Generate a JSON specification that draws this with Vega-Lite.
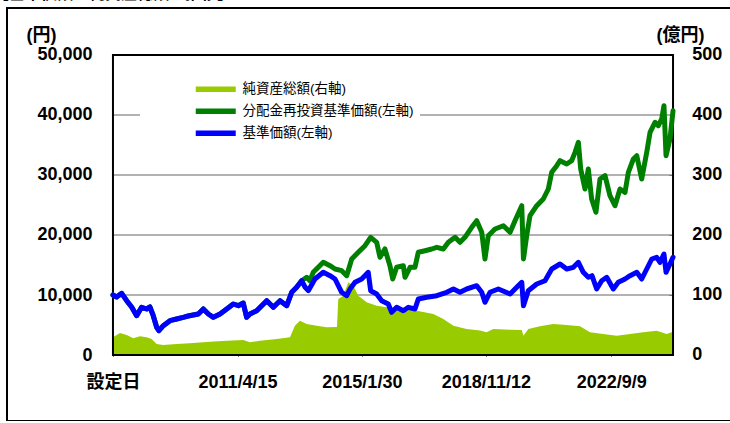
{
  "$schema": "https://vega.github.io/schema/vega-lite/v6.json",
  "width": 730,
  "height": 413,
  "autosize": {"type": "none"},
  "padding": {"left": 7, "top": 8, "right": 0, "bottom": 0},
  "background": "#ffffff",
  "title": {"text": "【基準価額・純資産総額の推移】", "anchor": "start", "font": "Noto Sans CJK JP", "fontSize": 16, "fontWeight": "bold", "color": "#000000", "offset": 0, "dx": -14, "dy": 10, "baseline": "bottom"},
  "config": {
    "view": {"stroke": "#000000", "strokeWidth": 2},
    "font": "Liberation Sans, Noto Sans CJK JP",
    "axis": {"labelColor": "#000000", "titleColor": "#000000"}
  },
  "datasets": {
    "grid": [{"g": 10000}, {"g": 20000}, {"g": 30000}, {"g": 40000}],
    "blue": [
      {"d": "2007-06-27", "v": 10000}, {"d": "2007-08-07", "v": 9667}, {"d": "2007-10-02", "v": 10283}, {"d": "2007-11-27", "v": 9050},
      {"d": "2008-01-21", "v": 8000}, {"d": "2008-03-17", "v": 6550}, {"d": "2008-05-11", "v": 7950}, {"d": "2008-07-06", "v": 7667},
      {"d": "2008-08-12", "v": 8000}, {"d": "2008-09-18", "v": 6550}, {"d": "2008-10-26", "v": 4617}, {"d": "2008-11-20", "v": 4050},
      {"d": "2009-01-08", "v": 4883}, {"d": "2009-03-23", "v": 5717}, {"d": "2009-06-05", "v": 6000}, {"d": "2009-08-18", "v": 6283},
      {"d": "2009-10-12", "v": 6500}, {"d": "2009-12-07", "v": 6667}, {"d": "2010-02-02", "v": 6833}, {"d": "2010-03-30", "v": 7667},
      {"d": "2010-05-25", "v": 6833}, {"d": "2010-07-20", "v": 6283}, {"d": "2010-10-02", "v": 6833}, {"d": "2010-12-16", "v": 7667},
      {"d": "2011-02-27", "v": 8500}, {"d": "2011-04-24", "v": 8217}, {"d": "2011-06-18", "v": 8667}, {"d": "2011-07-26", "v": 6283},
      {"d": "2011-09-01", "v": 6833}, {"d": "2011-11-15", "v": 7383}, {"d": "2012-01-10", "v": 8217}, {"d": "2012-03-06", "v": 9050},
      {"d": "2012-05-18", "v": 7950}, {"d": "2012-08-01", "v": 9050}, {"d": "2012-10-15", "v": 8217}, {"d": "2012-12-09", "v": 10450},
      {"d": "2013-02-02", "v": 11283}, {"d": "2013-03-30", "v": 12383}, {"d": "2013-05-06", "v": 11333}, {"d": "2013-06-12", "v": 10717},
      {"d": "2013-08-25", "v": 12667}, {"d": "2013-11-26", "v": 13783}, {"d": "2014-02-09", "v": 13217}, {"d": "2014-04-06", "v": 12667},
      {"d": "2014-06-19", "v": 10450}, {"d": "2014-08-14", "v": 9883}, {"d": "2014-09-20", "v": 11000}, {"d": "2014-11-15", "v": 12117},
      {"d": "2015-01-28", "v": 12667}, {"d": "2015-04-11", "v": 13783}, {"d": "2015-05-08", "v": 10717}, {"d": "2015-07-14", "v": 10167},
      {"d": "2015-09-08", "v": 9050}, {"d": "2015-11-20", "v": 8500}, {"d": "2015-12-28", "v": 7117}, {"d": "2016-02-22", "v": 7950},
      {"d": "2016-05-06", "v": 7383}, {"d": "2016-07-01", "v": 7950}, {"d": "2016-09-13", "v": 7667}, {"d": "2016-10-20", "v": 9333},
      {"d": "2017-01-22", "v": 9617}, {"d": "2017-05-14", "v": 9883}, {"d": "2017-09-02", "v": 10450}, {"d": "2017-11-15", "v": 11000},
      {"d": "2018-01-28", "v": 10450}, {"d": "2018-04-12", "v": 11000}, {"d": "2018-08-02", "v": 11550}, {"d": "2018-09-27", "v": 10450},
      {"d": "2018-11-02", "v": 8783}, {"d": "2018-12-28", "v": 10450}, {"d": "2019-03-31", "v": 11000}, {"d": "2019-08-09", "v": 10167},
      {"d": "2019-10-22", "v": 11283}, {"d": "2019-12-17", "v": 12117}, {"d": "2020-01-05", "v": 8217}, {"d": "2020-02-28", "v": 10717},
      {"d": "2020-06-01", "v": 11833}, {"d": "2020-09-01", "v": 12383}, {"d": "2020-11-15", "v": 14333}, {"d": "2021-02-16", "v": 15167},
      {"d": "2021-05-01", "v": 14333}, {"d": "2021-07-14", "v": 14617}, {"d": "2021-09-08", "v": 15450}, {"d": "2021-11-02", "v": 13783},
      {"d": "2021-12-28", "v": 12950}, {"d": "2022-02-07", "v": 13217}, {"d": "2022-03-31", "v": 11000}, {"d": "2022-05-26", "v": 12383},
      {"d": "2022-07-21", "v": 12950}, {"d": "2022-10-02", "v": 11000}, {"d": "2022-11-27", "v": 12117}, {"d": "2023-02-10", "v": 12667},
      {"d": "2023-04-07", "v": 13217}, {"d": "2023-06-21", "v": 13783}, {"d": "2023-08-15", "v": 12667}, {"d": "2023-10-10", "v": 14333},
      {"d": "2023-12-05", "v": 16000}, {"d": "2024-01-29", "v": 16283}, {"d": "2024-03-06", "v": 15450}, {"d": "2024-04-19", "v": 16833},
      {"d": "2024-05-12", "v": 13783}, {"d": "2024-06-25", "v": 15167}, {"d": "2024-07-29", "v": 16283}
    ],
    "green": [
      {"d": "2007-06-27", "v": 10000}, {"d": "2007-08-07", "v": 9667}, {"d": "2007-10-02", "v": 10283}, {"d": "2007-11-27", "v": 9050},
      {"d": "2008-01-21", "v": 8000}, {"d": "2008-03-17", "v": 6550}, {"d": "2008-05-11", "v": 7950}, {"d": "2008-07-06", "v": 7667},
      {"d": "2008-08-12", "v": 8000}, {"d": "2008-09-18", "v": 6550}, {"d": "2008-10-26", "v": 4617}, {"d": "2008-11-20", "v": 4050},
      {"d": "2009-01-08", "v": 4883}, {"d": "2009-03-23", "v": 5717}, {"d": "2009-06-05", "v": 6000}, {"d": "2009-08-18", "v": 6283},
      {"d": "2009-10-12", "v": 6500}, {"d": "2009-12-07", "v": 6667}, {"d": "2010-02-02", "v": 6833}, {"d": "2010-03-30", "v": 7667},
      {"d": "2010-05-25", "v": 6833}, {"d": "2010-07-20", "v": 6283}, {"d": "2010-10-02", "v": 6833}, {"d": "2010-12-16", "v": 7667},
      {"d": "2011-02-27", "v": 8500}, {"d": "2011-04-24", "v": 8217}, {"d": "2011-06-18", "v": 8667}, {"d": "2011-07-26", "v": 6283},
      {"d": "2011-09-01", "v": 6833}, {"d": "2011-11-15", "v": 7383}, {"d": "2012-01-10", "v": 8217}, {"d": "2012-03-06", "v": 9050},
      {"d": "2012-05-18", "v": 7950}, {"d": "2012-08-01", "v": 9050}, {"d": "2012-10-15", "v": 8217}, {"d": "2012-12-09", "v": 10450},
      {"d": "2013-02-02", "v": 11283}, {"d": "2013-03-30", "v": 12383}, {"d": "2013-05-25", "v": 12950}, {"d": "2013-06-30", "v": 12383},
      {"d": "2013-08-06", "v": 13783}, {"d": "2013-10-01", "v": 14617}, {"d": "2013-11-26", "v": 15450}, {"d": "2014-02-09", "v": 14883},
      {"d": "2014-04-06", "v": 14333}, {"d": "2014-06-19", "v": 14050}, {"d": "2014-08-14", "v": 13217}, {"d": "2014-10-09", "v": 16000},
      {"d": "2014-12-21", "v": 17117}, {"d": "2015-03-06", "v": 18217}, {"d": "2015-05-08", "v": 19617}, {"d": "2015-07-14", "v": 18783},
      {"d": "2015-08-20", "v": 16283}, {"d": "2015-10-14", "v": 17667}, {"d": "2015-12-09", "v": 14883}, {"d": "2016-01-09", "v": 12667},
      {"d": "2016-02-22", "v": 14617}, {"d": "2016-05-06", "v": 14883}, {"d": "2016-05-25", "v": 12950}, {"d": "2016-07-20", "v": 14617},
      {"d": "2016-09-13", "v": 14617}, {"d": "2016-10-20", "v": 17117}, {"d": "2017-01-03", "v": 17383}, {"d": "2017-03-19", "v": 17667},
      {"d": "2017-05-14", "v": 17950}, {"d": "2017-07-26", "v": 17667}, {"d": "2017-09-20", "v": 18783}, {"d": "2017-12-04", "v": 19617},
      {"d": "2018-01-28", "v": 18783}, {"d": "2018-03-24", "v": 19617}, {"d": "2018-06-07", "v": 21283}, {"d": "2018-08-02", "v": 22383},
      {"d": "2018-09-27", "v": 20450}, {"d": "2018-11-02", "v": 16000}, {"d": "2018-12-09", "v": 19883}, {"d": "2019-02-22", "v": 21000},
      {"d": "2019-05-26", "v": 21550}, {"d": "2019-08-09", "v": 20450}, {"d": "2019-10-03", "v": 22383}, {"d": "2019-12-17", "v": 24883},
      {"d": "2020-01-05", "v": 16000}, {"d": "2020-02-10", "v": 19883}, {"d": "2020-03-18", "v": 23217}, {"d": "2020-06-01", "v": 24883},
      {"d": "2020-08-13", "v": 26000}, {"d": "2020-10-08", "v": 27667}, {"d": "2020-11-15", "v": 30450}, {"d": "2021-01-10", "v": 31550},
      {"d": "2021-02-16", "v": 32383}, {"d": "2021-05-01", "v": 31833}, {"d": "2021-06-26", "v": 32383}, {"d": "2021-08-02", "v": 33783},
      {"d": "2021-09-08", "v": 35450}, {"d": "2021-10-04", "v": 31000}, {"d": "2021-11-21", "v": 27667}, {"d": "2021-12-28", "v": 31000},
      {"d": "2022-02-03", "v": 26000}, {"d": "2022-03-23", "v": 23783}, {"d": "2022-05-07", "v": 29333}, {"d": "2022-07-02", "v": 29883},
      {"d": "2022-08-26", "v": 26550}, {"d": "2022-10-21", "v": 24883}, {"d": "2022-12-16", "v": 27667}, {"d": "2023-02-10", "v": 27117},
      {"d": "2023-03-19", "v": 30450}, {"d": "2023-05-14", "v": 32667}, {"d": "2023-06-21", "v": 33217}, {"d": "2023-08-15", "v": 29333},
      {"d": "2023-10-10", "v": 33783}, {"d": "2023-11-16", "v": 37117}, {"d": "2024-01-10", "v": 38783}, {"d": "2024-02-16", "v": 38217},
      {"d": "2024-03-25", "v": 39333}, {"d": "2024-04-19", "v": 41550}, {"d": "2024-05-12", "v": 33217}, {"d": "2024-06-25", "v": 36000},
      {"d": "2024-07-29", "v": 40717}
    ],
    "nav": [
      {"d": "2007-06-27", "v": 29.5}, {"d": "2007-09-13", "v": 36.7}, {"d": "2007-11-27", "v": 33.3}, {"d": "2008-02-08", "v": 27.8},
      {"d": "2008-04-23", "v": 31.2}, {"d": "2008-07-06", "v": 29.5}, {"d": "2008-08-31", "v": 26.7}, {"d": "2008-10-26", "v": 18.3},
      {"d": "2009-01-08", "v": 16.7}, {"d": "2009-06-05", "v": 18.3}, {"d": "2009-12-07", "v": 20}, {"d": "2010-06-12", "v": 22.2},
      {"d": "2010-12-16", "v": 23.8}, {"d": "2011-06-18", "v": 25}, {"d": "2011-09-01", "v": 21.2}, {"d": "2011-12-21", "v": 23.8},
      {"d": "2012-06-25", "v": 26.7}, {"d": "2012-11-20", "v": 29.5}, {"d": "2013-01-14", "v": 48.8}, {"d": "2013-03-11", "v": 57.2},
      {"d": "2013-05-25", "v": 51.7}, {"d": "2013-09-13", "v": 48.8}, {"d": "2014-01-03", "v": 46.2}, {"d": "2014-04-28", "v": 46.7},
      {"d": "2014-05-12", "v": 93.3}, {"d": "2014-07-07", "v": 98.8}, {"d": "2014-09-01", "v": 121.2}, {"d": "2014-10-27", "v": 115.5},
      {"d": "2014-12-21", "v": 98.8}, {"d": "2015-03-24", "v": 87.8}, {"d": "2015-07-14", "v": 82.2}, {"d": "2015-11-02", "v": 79.5},
      {"d": "2016-03-30", "v": 76.7}, {"d": "2016-10-02", "v": 73.8}, {"d": "2017-04-06", "v": 68.3}, {"d": "2017-07-26", "v": 60},
      {"d": "2017-11-15", "v": 48.8}, {"d": "2018-04-12", "v": 43.3}, {"d": "2018-09-08", "v": 40.7}, {"d": "2018-11-20", "v": 37.8},
      {"d": "2019-02-03", "v": 43.3}, {"d": "2019-08-09", "v": 42.2}, {"d": "2019-12-17", "v": 41.7}, {"d": "2020-01-05", "v": 32.2},
      {"d": "2020-02-28", "v": 43.3}, {"d": "2020-07-07", "v": 47.8}, {"d": "2020-12-03", "v": 51.7}, {"d": "2021-05-01", "v": 50},
      {"d": "2021-09-27", "v": 47.8}, {"d": "2022-01-15", "v": 37.8}, {"d": "2022-06-12", "v": 35}, {"d": "2022-11-09", "v": 32.2},
      {"d": "2023-04-07", "v": 35}, {"d": "2023-09-01", "v": 37.8}, {"d": "2024-01-29", "v": 40.5}, {"d": "2024-05-19", "v": 35},
      {"d": "2024-07-29", "v": 38.8}
    ]
  },
  "resolve": {"scale": {"y": "independent"}, "axis": {"y": "independent"}},
  "layer": [
    {
      "data": {"name": "grid"},
      "mark": {"type": "rule", "color": "#999999", "strokeWidth": 1.5},
      "encoding": {
        "x": {
          "datum": {"year": 2007, "month": 6, "date": 27}, "type": "temporal",
          "scale": {"domain": [{"year": 2004, "month": 4, "date": 2}, {"year": 2026, "month": 7, "date": 12}]},
          "axis": {
            "orient": "bottom", "offset": -65, "title": null, "domain": false, "grid": false,
            "values": [{"year": 2007, "month": 6, "date": 27}, {"year": 2011, "month": 4, "date": 15}, {"year": 2015, "month": 1, "date": 30}, {"year": 2018, "month": 11, "date": 12}, {"year": 2022, "month": 9, "date": 9}],
            "labelExpr": "year(datum.value) < 2008 ? '設定日' : timeFormat(datum.value, '%Y/%-m/%-d')",
            "ticks": true, "tickSize": -4, "tickColor": "#000000", "tickWidth": 1,
            "labelPadding": 21, "labelFontSize": 18, "labelFontWeight": "bold", "labelFont": "Liberation Sans, Noto Sans CJK JP",
            "labelOverlap": false, "labelFlush": false, "labelBound": false
          }
        },
        "x2": {"datum": {"year": 2024, "month": 7, "date": 29}},
        "y": {
          "field": "g", "type": "quantitative",
          "scale": {"domain": [-11000, 57833.33], "nice": false, "zero": false},
          "axis": {
            "orient": "left", "offset": -106, "domain": false, "ticks": false, "grid": false,
            "values": [0, 10000, 20000, 30000, 40000, 50000], "format": ",d",
            "labelPadding": 21, "labelFontSize": 18, "labelFontWeight": "bold", "labelFont": "Liberation Sans, Noto Sans CJK JP",
            "labelOverlap": false, "labelFlush": false, "labelBound": false,
            "title": "(円)", "titleAngle": 0, "titleX": -72, "titleY": 27, "titleAlign": "center", "titleBaseline": "middle",
            "titleFontSize": 18, "titleFontWeight": "bold", "titleFont": "Liberation Sans, Noto Sans CJK JP"
          }
        }
      }
    },
    {
      "data": {"name": "nav"},
      "mark": {"type": "area", "opacity": 1, "interpolate": "linear"},
      "encoding": {
        "x": {"field": "d", "type": "temporal", "scale": {"domain": [{"year": 2004, "month": 4, "date": 2}, {"year": 2026, "month": 7, "date": 12}]}},
        "y": {
          "field": "v", "type": "quantitative",
          "scale": {"domain": [-110, 578.333], "nice": false, "zero": false},
          "axis": {
            "orient": "right", "offset": -64, "domain": false, "grid": false,
            "values": [0, 100, 200, 300, 400, 500],
            "ticks": true, "tickSize": -4, "tickColor": "#000000", "tickWidth": 1,
            "labelPadding": 22.7, "labelFontSize": 18, "labelFontWeight": "bold", "labelFont": "Liberation Sans, Noto Sans CJK JP",
            "labelOverlap": false, "labelFlush": false, "labelBound": false,
            "title": "(億円)", "titleAngle": 0, "titleX": 7, "titleY": 27, "titleAlign": "center", "titleBaseline": "middle",
            "titleFontSize": 18, "titleFontWeight": "bold", "titleFont": "Liberation Sans, Noto Sans CJK JP"
          }
        },
        "y2": {"datum": 0},
        "color": {
          "datum": "純資産総額(右軸)",
          "scale": {"domain": ["純資産総額(右軸)", "分配金再投資基準価額(左軸)", "基準価額(左軸)"], "range": ["#99CC00", "#008000", "#0000FF"]},
          "legend": {
            "title": null, "orient": "none", "legendX": 133, "legendY": 68.5, "direction": "vertical",
            "fillColor": "#ffffff", "padding": 6,
            "symbolType": "M-4,-0.55H4V0.55H-4Z", "symbolSize": 100, "symbolStrokeWidth": 0, "symbolOffset": 63,
            "labelOffset": 20, "labelFont": "Liberation Sans, Noto Sans CJK JP", "labelFontSize": 13.5, "labelColor": "#000000", "labelLimit": 500,
            "rowPadding": 7,
            "encode": {"symbols": {"update": {"fill": {"scale": "color", "field": "value"}, "stroke": {"value": "transparent"}, "opacity": {"value": 1}}}}
          }
        }
      }
    },
    {
      "layer": [
        {
          "data": {"values": [{}]},
          "mark": {"type": "rect", "filled": false, "stroke": "#000000", "strokeWidth": 2},
          "encoding": {
            "x": {"datum": {"year": 2007, "month": 6, "date": 27}, "type": "temporal", "scale": {"domain": [{"year": 2004, "month": 4, "date": 2}, {"year": 2026, "month": 7, "date": 12}]}},
            "x2": {"datum": {"year": 2024, "month": 7, "date": 29}},
            "y": {"datum": 0, "type": "quantitative", "scale": {"domain": [-11000, 57833.33], "nice": false, "zero": false}, "axis": null},
            "y2": {"datum": 50000}
          }
        },
        {
          "data": {"name": "green"},
          "mark": {"type": "line", "strokeWidth": 5, "strokeCap": "round", "strokeJoin": "round"},
          "encoding": {
            "x": {"field": "d", "type": "temporal", "scale": {"domain": [{"year": 2004, "month": 4, "date": 2}, {"year": 2026, "month": 7, "date": 12}]}},
            "y": {"field": "v", "type": "quantitative", "scale": {"domain": [-11000, 57833.33], "nice": false, "zero": false}, "axis": null},
            "color": {
              "datum": "分配金再投資基準価額(左軸)",
              "scale": {"domain": ["純資産総額(右軸)", "分配金再投資基準価額(左軸)", "基準価額(左軸)"], "range": ["#99CC00", "#008000", "#0000FF"]},
              "legend": {
                "title": null, "orient": "none", "legendX": 133, "legendY": 68.5, "direction": "vertical",
                "fillColor": "#ffffff", "padding": 6,
                "symbolType": "M-4,-0.55H4V0.55H-4Z", "symbolSize": 100, "symbolStrokeWidth": 0, "symbolOffset": 63,
                "labelOffset": 20, "labelFont": "Liberation Sans, Noto Sans CJK JP", "labelFontSize": 13.5, "labelColor": "#000000", "labelLimit": 500,
                "rowPadding": 7,
                "encode": {"symbols": {"update": {"fill": {"scale": "color", "field": "value"}, "stroke": {"value": "transparent"}, "opacity": {"value": 1}}}}
              }
            }
          }
        },
        {
          "data": {"name": "blue"},
          "mark": {"type": "line", "strokeWidth": 5, "strokeCap": "round", "strokeJoin": "round"},
          "encoding": {
            "x": {"field": "d", "type": "temporal", "scale": {"domain": [{"year": 2004, "month": 4, "date": 2}, {"year": 2026, "month": 7, "date": 12}]}},
            "y": {"field": "v", "type": "quantitative", "scale": {"domain": [-11000, 57833.33], "nice": false, "zero": false}, "axis": null},
            "color": {
              "datum": "基準価額(左軸)",
              "scale": {"domain": ["純資産総額(右軸)", "分配金再投資基準価額(左軸)", "基準価額(左軸)"], "range": ["#99CC00", "#008000", "#0000FF"]},
              "legend": {
                "title": null, "orient": "none", "legendX": 133, "legendY": 68.5, "direction": "vertical",
                "fillColor": "#ffffff", "padding": 6,
                "symbolType": "M-4,-0.55H4V0.55H-4Z", "symbolSize": 100, "symbolStrokeWidth": 0, "symbolOffset": 63,
                "labelOffset": 20, "labelFont": "Liberation Sans, Noto Sans CJK JP", "labelFontSize": 13.5, "labelColor": "#000000", "labelLimit": 500,
                "rowPadding": 7,
                "encode": {"symbols": {"update": {"fill": {"scale": "color", "field": "value"}, "stroke": {"value": "transparent"}, "opacity": {"value": 1}}}}
              }
            }
          }
        }
      ]
    }
  ]
}
